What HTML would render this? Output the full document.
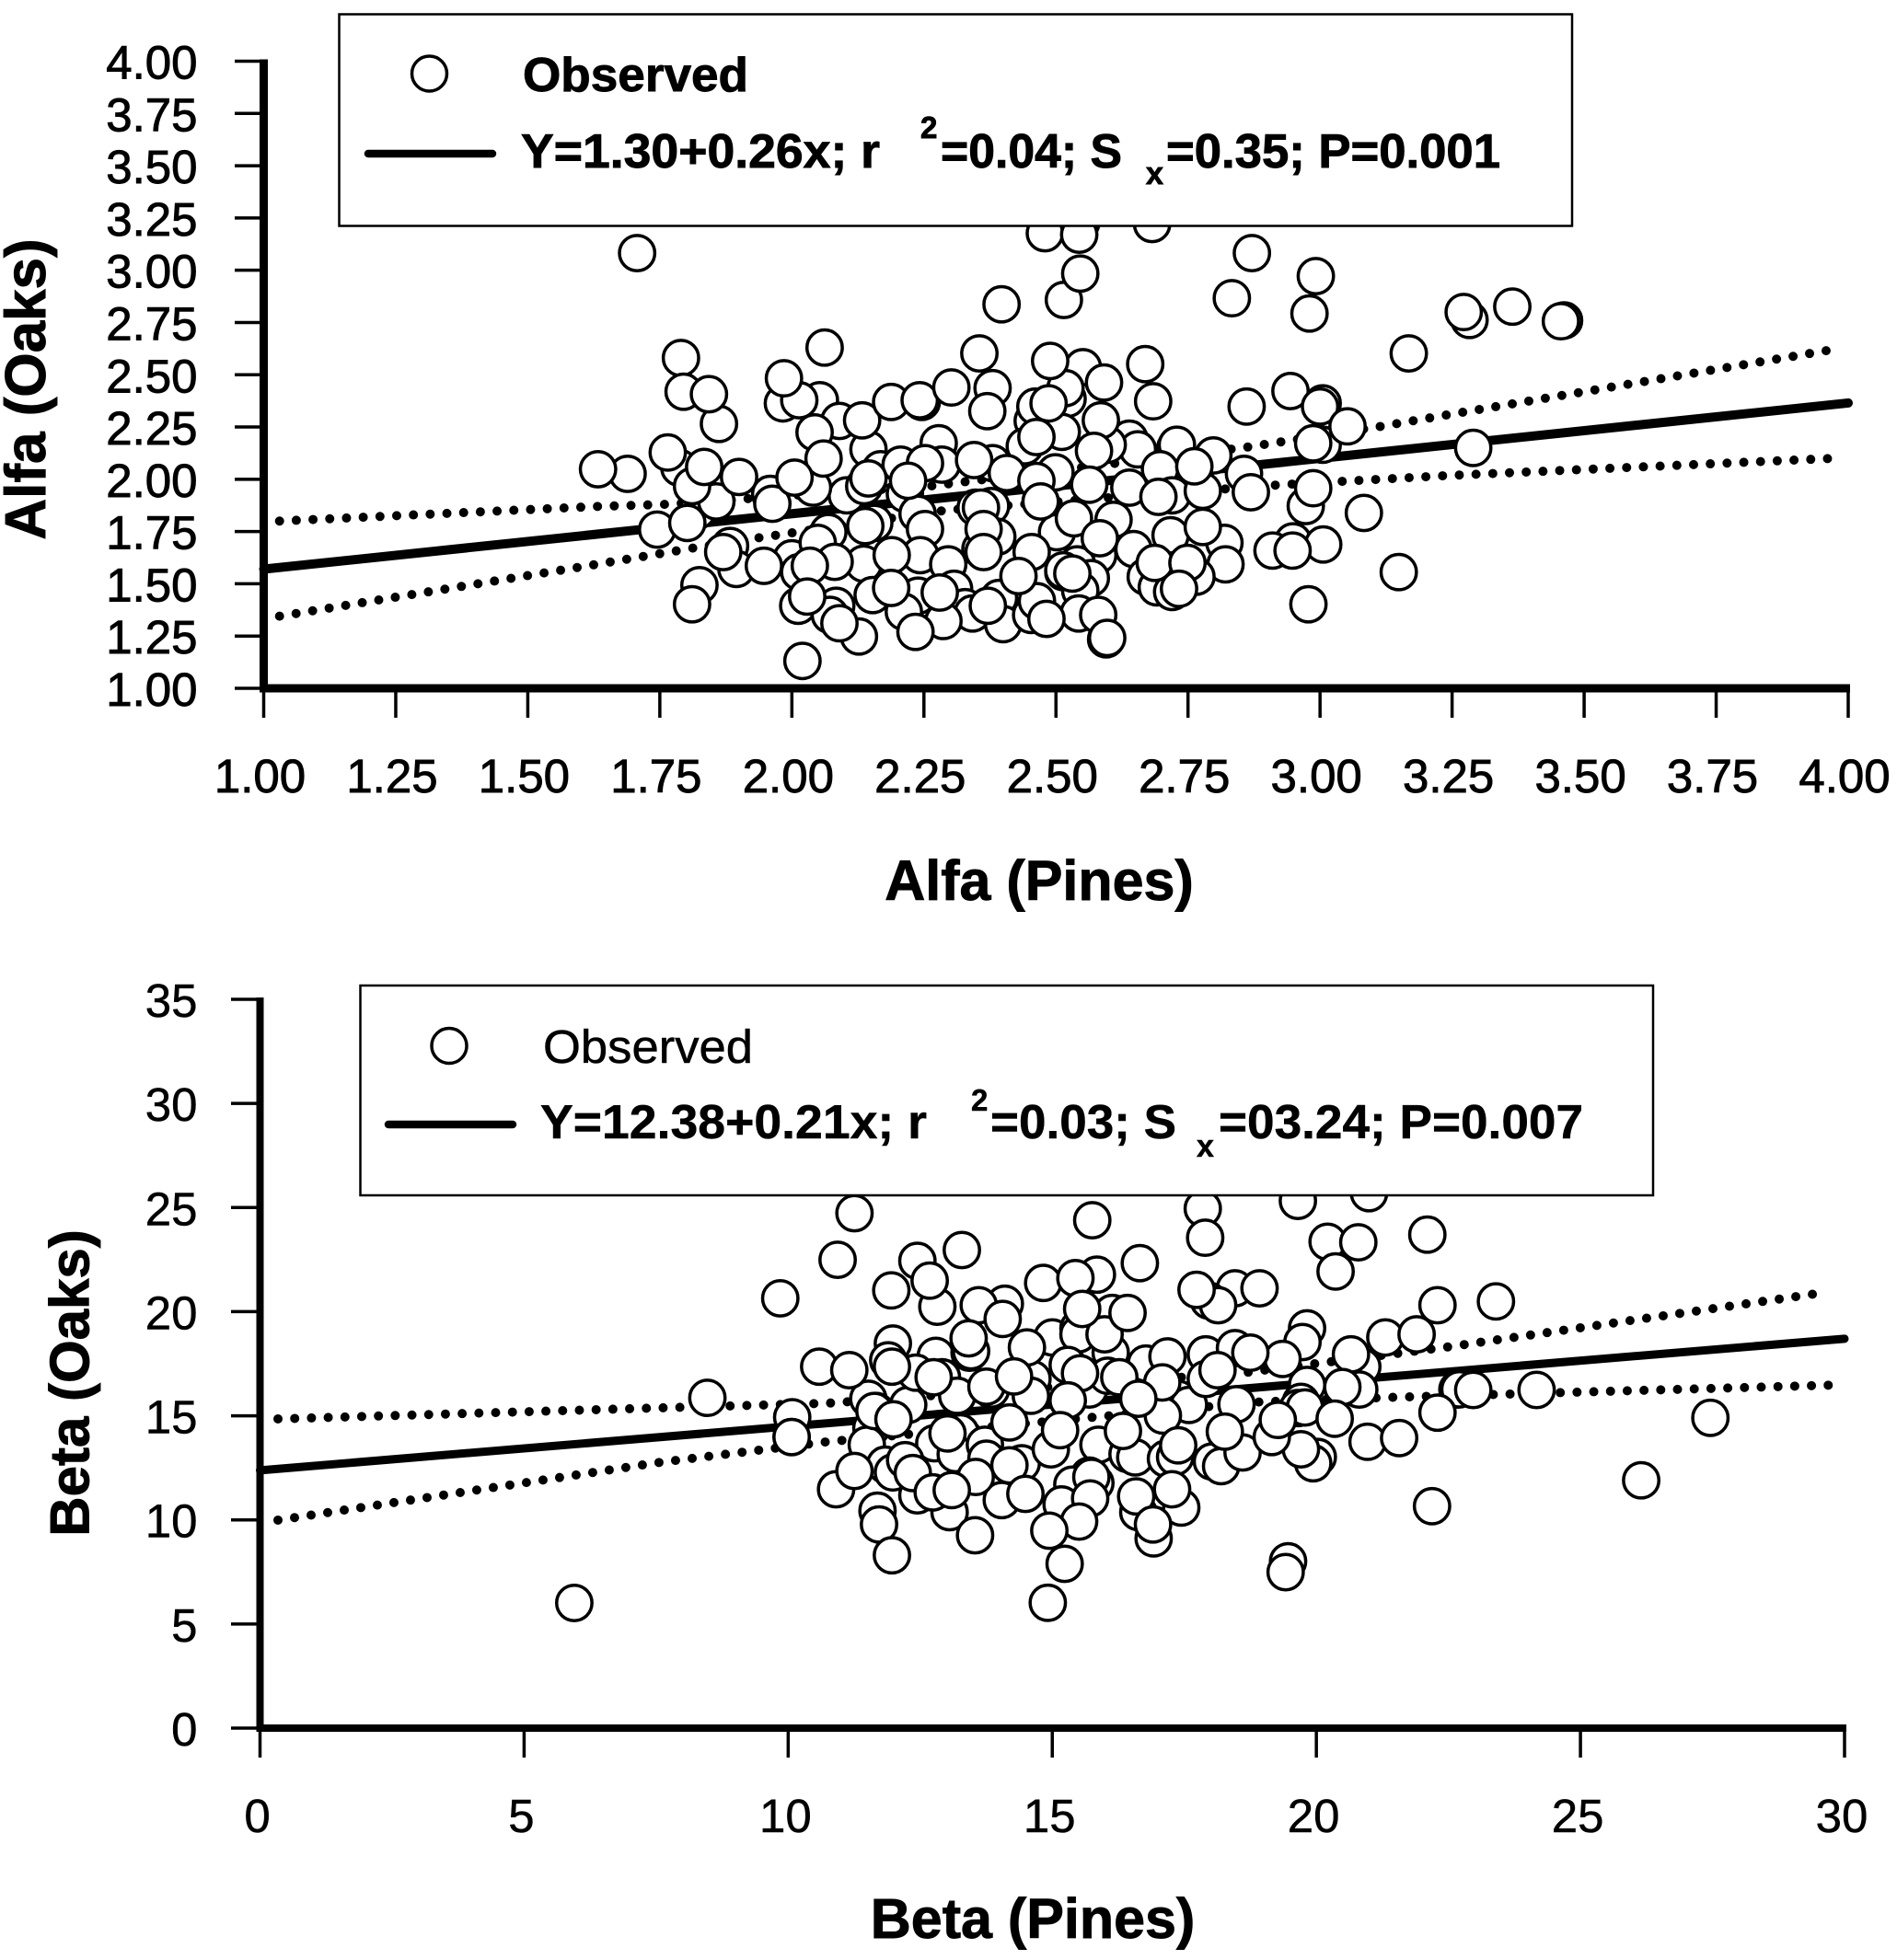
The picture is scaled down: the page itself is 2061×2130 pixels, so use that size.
<!DOCTYPE html>
<html lang="en">
<head>
<meta charset="utf-8">
<title>Alfa and Beta diversity: Oaks vs Pines</title>
<style>
html,body{margin:0;padding:0;background:#fff;}
svg{display:block;}
text{font-family:"Liberation Sans",Arial,sans-serif;fill:#000;}
.b{font-weight:bold;}
.h{stroke:#000;stroke-width:0.9px;}
.m{stroke:#000;stroke-width:0.5px;}
</style>
</head>
<body>
<svg id="fig" xmlns="http://www.w3.org/2000/svg" width="2061" height="2130" viewBox="0 0 2061 2130">
  <rect x="0" y="0" width="2061" height="2130" fill="#fff"/>

  <g id="alfa-chart"></g>
  <g>
    <rect x="368.5" y="15.5" width="1339.5" height="230" fill="#fff" stroke="#000" stroke-width="2.5"/>
    <circle cx="466.5" cy="80" r="19" fill="#fff" stroke="#000" stroke-width="3.5"/>
    <text class="b h" x="568" y="99" font-size="52" textLength="245" lengthAdjust="spacingAndGlyphs">Observed</text>
    <line x1="400" y1="167" x2="535" y2="167" stroke="#000" stroke-width="8.5" stroke-linecap="round"/>
    <text class="b h" x="566" y="182" font-size="52" textLength="390" lengthAdjust="spacingAndGlyphs">Y=1.30+0.26x; r</text>
    <text class="b h" x="1000" y="150" font-size="33">2</text>
    <text class="b h" x="1022" y="182" font-size="52" textLength="197" lengthAdjust="spacingAndGlyphs">=0.04; S</text>
    <text class="b h" x="1245" y="200" font-size="34">x</text>
    <text class="b h" x="1267" y="182" font-size="52" textLength="363" lengthAdjust="spacingAndGlyphs">=0.35; P=0.001</text>
  </g>

  <g id="beta-chart"></g>
  <g>
    <rect x="391.5" y="1071" width="1404.5" height="228" fill="#fff" stroke="#000" stroke-width="2.5"/>
    <circle cx="488" cy="1136.5" r="19" fill="#fff" stroke="#000" stroke-width="3.5"/>
    <text class="m" x="590" y="1155" font-size="51" textLength="228" lengthAdjust="spacingAndGlyphs">Observed</text>
    <line x1="422" y1="1222" x2="557" y2="1222" stroke="#000" stroke-width="8.5" stroke-linecap="round"/>
    <text class="b m" x="587" y="1237" font-size="52" textLength="420" lengthAdjust="spacingAndGlyphs">Y=12.38+0.21x; r</text>
    <text class="b m" x="1055" y="1207" font-size="33">2</text>
    <text class="b m" x="1076" y="1237" font-size="52" textLength="202" lengthAdjust="spacingAndGlyphs">=0.03; S</text>
    <text class="b m" x="1300" y="1257" font-size="34">x</text>
    <text class="b m" x="1324" y="1237" font-size="52" textLength="396" lengthAdjust="spacingAndGlyphs">=03.24; P=0.007</text>
  </g>

  <text class="b h" x="1129" y="978" font-size="61" text-anchor="middle">Alfa (Pines)</text>
  <text class="b h" x="0" y="0" font-size="62" text-anchor="middle" transform="translate(49 423) rotate(-90)">Alfa (Oaks)</text>
  <text class="b h" x="1122" y="2106" font-size="61" text-anchor="middle">Beta (Pines)</text>
  <text class="b h" x="0" y="0" font-size="60" text-anchor="middle" transform="translate(96.5 1503) rotate(-90)">Beta (Oaks)</text>
</svg>

<script>
/* ---------- Alfa chart data ---------- */
const alfaXTickLabels = ["1.00","1.25","1.50","1.75","2.00","2.25","2.50","2.75","3.00","3.25","3.50","3.75","4.00"];
const alfaYTickLabels = ["1.00","1.25","1.50","1.75","2.00","2.25","2.50","2.75","3.00","3.25","3.50","3.75","4.00"];

const alfaPines = [
1.689,1.787,1.822,1.857,1.983,2.053,2.014,2.090,2.043,2.145,
2.168,2.104,1.959,2.040,2.278,2.206,2.284,2.380,2.214,2.238,
2.137,2.246,2.456,2.461,2.441,2.499,1.883,1.895,2.000,2.014,
2.069,2.049,2.156,2.252,2.136,2.243,2.296,2.348,2.377,2.389,
2.357,2.153,2.239,2.212,2.307,2.328,2.342,2.392,2.287,2.234,
2.400,2.453,2.464,2.012,2.084,2.072,2.127,1.825,2.514,2.502,
3.283,2.551,2.591,2.522,2.518,3.005,2.639,2.655,2.598,2.511,
2.726,2.729,2.798,2.697,2.720,2.778,2.856,3.005,2.973,2.534,
2.609,2.580,2.647,2.717,2.819,2.821,2.670,2.691,2.766,2.720,
2.949,2.910,3.006,2.540,2.514,2.566,2.546,2.543,2.580,2.595,
1.707,2.397,2.062,1.790,1.795,1.862,1.843,1.985,2.133,2.188,
2.242,2.302,2.355,2.380,2.370,2.489,2.486,2.463,2.060,1.633,
1.765,1.811,1.834,1.900,1.745,1.802,1.963,2.005,2.145,2.252,
2.345,2.220,2.407,2.463,2.471,2.358,2.363,2.363,2.454,2.429,
2.139,2.081,1.870,1.947,2.034,2.189,2.188,2.280,2.371,2.482,
2.029,2.090,1.811,2.020,
2.479,2.548,2.544,2.682,2.871,2.992,2.833,2.980,2.515,2.546,
3.168,3.272,3.364,3.462,3.456,3.290,2.669,2.684,2.585,2.861,
2.944,3.000,3.052,2.987,2.572,2.563,2.639,2.694,2.762,2.869,
2.987,3.083,2.583,2.778,2.687,2.749,2.733,2.531,2.597,2.948,
3.149,2.978
];
const alfaOaks = [
2.026,2.055,1.850,1.894,2.363,2.378,2.378,2.279,2.224,2.143,
2.048,1.923,1.930,1.960,2.172,2.070,2.070,2.077,1.930,1.835,
1.967,2.370,2.279,2.348,2.158,2.033,1.681,1.571,1.622,1.556,
1.747,1.696,1.791,1.762,1.596,1.637,1.593,1.864,1.872,1.725,
1.666,1.446,1.443,1.366,1.476,1.388,1.358,1.432,1.322,1.270,
1.307,1.351,1.417,1.395,1.395,1.351,1.248,1.493,1.556,1.747,
2.762,2.536,2.463,2.385,2.436,2.363,2.194,2.143,2.165,2.227,
2.150,2.165,2.114,2.048,1.923,1.945,2.026,2.165,1.872,1.813,
1.806,1.637,1.666,1.732,1.696,1.593,1.534,1.483,1.534,1.461,
1.703,1.659,1.688,1.593,1.564,1.527,1.468,1.358,1.351,1.234,
3.082,2.837,2.630,2.580,2.419,2.265,2.407,2.483,2.282,2.370,
2.378,2.439,2.602,2.436,2.326,2.566,2.363,2.202,2.099,2.048,
2.128,1.967,2.059,2.011,1.759,1.791,1.883,2.008,2.004,2.077,
2.092,1.993,2.030,1.992,1.894,1.864,1.762,1.652,1.652,1.537,
1.776,1.605,1.652,1.586,1.586,1.637,1.480,1.458,1.395,1.332,
1.439,1.311,1.402,1.131,
3.177,3.229,3.170,3.221,3.082,2.972,2.866,2.793,2.858,2.984,
2.602,2.800,2.826,2.760,2.756,2.150,2.551,2.373,2.282,2.348,
2.422,2.348,2.253,2.172,2.136,1.974,1.960,1.916,2.062,1.938,
1.957,1.839,1.718,1.772,1.600,1.600,1.476,1.549,1.241,1.659,
1.556,1.402
];
const alfaFitX = [1.00,4.00];
const alfaFitY = [1.57,2.365];
const alfaUpperX = [1.03,1.63,1.76,2.26,2.86,3.115,3.243,3.97];
const alfaUpperY = [1.80,1.87,1.88,1.967,2.153,2.253,2.309,2.62];
const alfaLowerX = [1.03,1.63,1.82,1.95,2.295,2.926,3.243,3.97];
const alfaLowerY = [1.345,1.593,1.674,1.725,1.853,1.974,2.018,2.10];

/* ---------- Beta chart data ---------- */
const betaXTickLabels = ["0","5","10","15","20","25","30"];
const betaYTickLabels = ["0","5","10","15","20","25","30","35"];

const betaPines = [
12.446,12.824,14.102,13.608,15.845,14.828,15.438,11.982,11.894,10.587,
11.517,11.662,11.575,11.488,12.272,12.795,12.417,12.911,13.201,13.434,
13.463,15.002,15.496,15.496,16.135,16.106,15.990,14.625,14.595,13.840,
13.753,15.293,15.699,16.048,15.293,16.774,17.384,17.587,17.907,18.459,
17.907,17.094,13.260,12.766,13.172,13.724,13.753,14.421,14.973,15.874,
16.425,16.571,17.152,17.326,18.023,18.197,18.603,11.836,11.982,12.214,
10.907,12.446,13.056,14.044,15.699,15.816,15.380,15.177,16.629,17.442,
16.919,11.691,
18.459,17.965,18.140,18.924,19.650,20.997,20.213,20.794,20.364,22.101,
22.293,19.824,19.737,19.360,18.750,21.306,21.898,20.870,20.655,20.812,
20.492,19.824,19.708,19.650,19.783,20.347,22.670,22.710,22.970,24.170,
26.150,27.460,22.190,22.293,23.400,20.969,21.567,20.027,19.940,19.708,
19.156,19.270,19.464,19.418,5.950,8.470,9.850,
11.255,10.936,13.288,12.679,11.952,15.757,16.658,17.849,17.895,17.732,
16.425,14.061,13.416,15.566,14.520,11.964,11.157,12.754,14.276,15.525,
16.269,17.181,17.082,18.128,16.629,15.293,18.488,11.633,11.993,14.189,
13.016,15.148,16.338,18.267,17.384,10.076,10.065,10.065,11.255,12.359,
14.189,13.550,12.737,13.097,14.491,15.740,15.717,16.588,17.268,15.508,
14.944,16.907,11.720,11.964,13.538,15.234,14.915
];
const betaOaks = [
22.44,20.24,20.38,20.31,21.78,21.38,21.61,18.47,17.66,17.36,
15.82,15.23,14.42,13.61,15.52,17.88,17.07,16.85,15.96,18.03,
18.10,18.76,19.20,18.91,19.94,18.03,18.91,16.77,15.96,16.26,
16.40,15.74,16.26,16.92,17.44,17.51,15.82,15.52,17.95,18.25,
16.77,15.01,14.20,13.68,13.16,13.61,12.94,12.72,13.39,13.61,
13.16,13.00,12.94,13.02,12.80,12.58,13.24,12.65,12.28,12.87,
11.47,11.18,10.37,10.95,12.13,11.77,11.69,10.74,10.37,10.59,
9.11,10.44,
21.12,20.53,20.31,21.12,25.32,25.69,23.36,23.33,21.93,23.70,
20.31,19.20,18.54,17.73,18.03,18.76,18.91,17.36,17.95,16.26,
16.38,16.48,15.67,15.37,15.40,14.86,16.26,16.27,16.24,16.24,
11.90,14.90,10.66,15.15,20.49,13.75,13.93,13.02,12.72,13.39,
13.98,14.80,8.01,7.49,6.01,15.86,20.64,
24.73,22.49,22.96,21.49,21.02,24.39,22.33,24.95,23.55,21.05,
19.94,19.65,18.72,20.13,18.28,17.36,17.19,16.85,16.89,17.04,
16.85,17.85,16.60,17.19,15.82,15.74,15.55,15.23,14.83,14.68,
14.15,14.31,14.27,14.24,13.58,14.93,13.98,13.98,12.35,12.25,
12.62,12.06,11.32,11.43,11.25,12.06,11.03,11.13,11.47,9.92,
9.48,9.78,9.78,8.30,9.26,7.89,6.02
];
const betaFitX = [0,30];
const betaFitY = [12.38,18.7];
const betaUpperX = [0.34,7.56,10.73,18.63,22.42,29.7];
const betaUpperY = [14.85,15.38,15.6,17.07,18.28,20.95];
const betaLowerX = [0.34,7.56,10.73,18.95,21.48,29.7];
const betaLowerY = [9.99,12.76,13.75,15.67,15.89,16.47];

/* ---------- axis functions ---------- */
function alfaX(v){ return 286.5 + (v - 1) * (2008 - 286.5) / 3; }
function alfaY(v){ return 748 - (v - 1) * (748 - 66.5) / 3; }
function betaX(v){ return 282.5 + v * (2004 - 282.5) / 30; }
function betaY(v){ return 1878 - v * (1878 - 1086) / 35; }

const NS = 'http://www.w3.org/2000/svg';
function make(tag, attrs, parent){
  const el = document.createElementNS(NS, tag);
  for (const k in attrs) el.setAttribute(k, attrs[k]);
  parent.appendChild(el);
  return el;
}
function pathFrom(xs, ys, fx, fy){
  return xs.map(function(x, i){ return (i ? 'L' : 'M') + fx(x).toFixed(2) + ' ' + fy(ys[i]).toFixed(2); }).join(' ');
}

function drawChart(cfg){
  const g = document.getElementById(cfg.id);

  // confidence bands and fit line sit behind the points
  const upper = make('path', {d: pathFrom(cfg.upX, cfg.upY, cfg.fx, cfg.fy), fill:'none', stroke:'#000', 'stroke-width':10, 'stroke-linecap':'round', 'stroke-dasharray':'0 18.2'}, g);
  
  
  const lower = make('path', {d: pathFrom(cfg.loX, cfg.loY, cfg.fx, cfg.fy), fill:'none', stroke:'#000', 'stroke-width':10, 'stroke-linecap':'round', 'stroke-dasharray':'0 18.2'}, g);
  
  
  const fit = make('path', {d: pathFrom(cfg.fitX, cfg.fitY, cfg.fx, cfg.fy), fill:'none', stroke:'#000', 'stroke-width':cfg.fitW, 'stroke-linecap':'round'}, g);
  
  

  // observed points
  const n = Math.min(cfg.xs.length, cfg.ys.length);
  for (let i = 0; i < n; i++){
    const c = make('circle', {cx: cfg.fx(cfg.xs[i]).toFixed(2), cy: cfg.fy(cfg.ys[i]).toFixed(2), r: 19.2, fill:'#fff', stroke:'#000', 'stroke-width':3.5}, g);
    
    
  }

  // ticks and tick labels
  const x0 = cfg.fx(parseFloat(cfg.xLabels[0]));
  const xEnd = cfg.fx(parseFloat(cfg.xLabels[cfg.xLabels.length - 1]));
  const y0 = cfg.fy(parseFloat(cfg.yLabels[0]));
  const yEnd = cfg.fy(parseFloat(cfg.yLabels[cfg.yLabels.length - 1]));

  cfg.xLabels.forEach(function(lab){
    const px = cfg.fx(parseFloat(lab));
    const t = make('line', {x1:px, y1:y0, x2:px, y2:y0 + cfg.xTickLen, stroke:'#000', 'stroke-width':3.5}, g);
    
    
    const tx = make('text', {x:px + cfg.xLabelDx, y:cfg.xLabelY, 'font-size':51, 'text-anchor':'middle', stroke:'#000', 'stroke-width':cfg.labelStroke}, g);
    tx.textContent = lab;
    
    
  });
  cfg.yLabels.forEach(function(lab){
    const py = cfg.fy(parseFloat(lab));
    const t = make('line', {x1:cfg.yTickX, y1:py, x2:x0, y2:py, stroke:'#000', 'stroke-width':3.5}, g);
    
    
    const tx = make('text', {x:214.5, y:py + 19, 'font-size':51, 'text-anchor':'end', stroke:'#000', 'stroke-width':cfg.labelStroke}, g);
    tx.textContent = lab;
    
    
  });

  // axis spines
  const xa = make('line', {x1:x0 - cfg.axisW / 2, y1:y0, x2:xEnd + 2, y2:y0, stroke:'#000', 'stroke-width':cfg.axisW}, g);
  
  
  const ya = make('line', {x1:x0, y1:y0, x2:x0, y2:yEnd - 2, stroke:'#000', 'stroke-width':cfg.axisW}, g);
  
  
}

drawChart({
  id:'alfa-chart', fx:alfaX, fy:alfaY, xs:alfaPines, ys:alfaOaks,
  fitX:alfaFitX, fitY:alfaFitY, upX:alfaUpperX, upY:alfaUpperY, loX:alfaLowerX, loY:alfaLowerY,
  xLabels:alfaXTickLabels, yLabels:alfaYTickLabels,
  fitW:10, axisW:9, xTickLen:32, xLabelDx:-4, xLabelY:861, yTickX:255, labelStroke:0.9
});
drawChart({
  id:'beta-chart', fx:betaX, fy:betaY, xs:betaPines, ys:betaOaks,
  fitX:betaFitX, fitY:betaFitY, upX:betaUpperX, upY:betaUpperY, loX:betaLowerX, loY:betaLowerY,
  xLabels:betaXTickLabels, yLabels:betaYTickLabels,
  fitW:9, axisW:8, xTickLen:32, xLabelDx:-3, xLabelY:1991, yTickX:251, labelStroke:0.5
});
</script>
</body>
</html>
